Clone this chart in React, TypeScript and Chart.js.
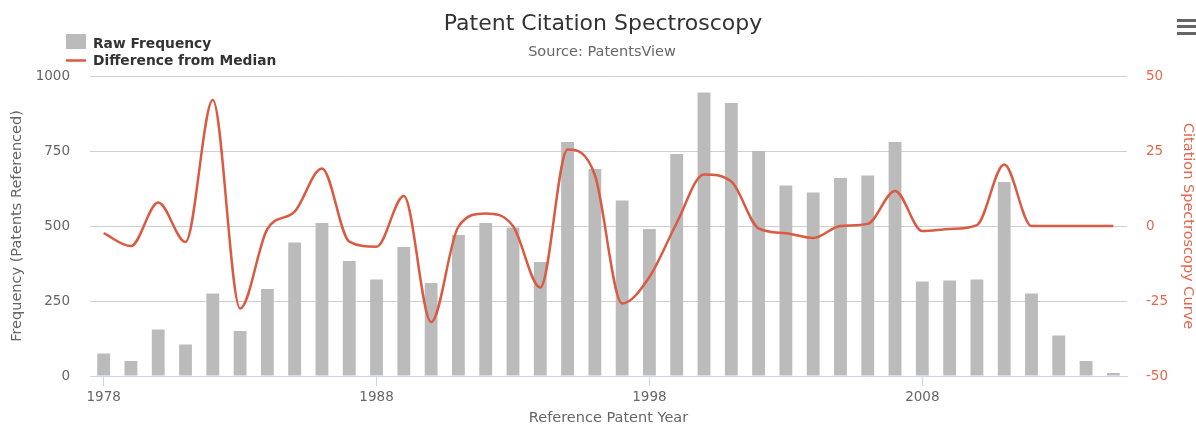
import React, { useEffect, useRef } from 'react';
import { Chart, registerables } from 'chart.js';

Chart.register(...registerables);

const years = [
  '1978', '1979', '1980', '1981', '1982', '1983', '1984', '1985', '1986', '1987',
  '1988', '1989', '1990', '1991', '1992', '1993', '1994', '1995', '1996', '1997',
  '1998', '1999', '2000', '2001', '2002', '2003', '2004', '2005', '2006', '2007',
  '2008', '2009', '2010', '2011', '2012', '2013', '2014', '2015',
];

const rawFrequency = [
  75, 50, 155, 105, 275, 150, 290, 445, 510, 383,
  322, 430, 310, 470, 510, 495, 380, 780, 690, 585,
  490, 740, 945, 910, 750, 635, 612, 660, 668, 780,
  315, 318, 322, 647, 275, 135, 50, 10,
];

const differenceFromMedian = [
  -2.4, -6.7, 7.8, -5.3, 42, -27.5, -1, 4.8, 19.2, -5.2,
  -6.9, 10, -32, -0.2, 4.2, 0, -20.5, 25.5, 17, -25.8,
  -17, 1, 17.2, 14.8, -0.8, -2.4, -4, 0, 0.7, 11.7,
  -1.7, -1, 0.3, 20.5, 0, 0, 0, 0,
];

const xTickYears = ['1978', '1988', '1998', '2008'];
const leftTicks = [0, 250, 500, 750, 1000];
const rightTicks = [-50, -25, 0, 25, 50];

const FONT = '"DejaVu Sans", "Lucida Grande", sans-serif';
const RED = '#db5a42';
const RED_TEXT = '#e4684f';
const BAR = '#bbbbbb';

const overlayPlugin = {
  id: 'overlay',
  afterDraw(chart: any) {
    const ctx = chart.ctx;
    ctx.save();
    // Title
    ctx.textAlign = 'center';
    ctx.textBaseline = 'alphabetic';
    ctx.fillStyle = '#333333';
    ctx.font = `22px ${FONT}`;
    ctx.fillText('Patent Citation Spectroscopy', 603, 29.5);
    ctx.fillStyle = '#666666';
    ctx.font = `14.5px ${FONT}`;
    ctx.fillText('Source: PatentsView', 602, 56);

    // Legend
    ctx.textAlign = 'left';
    ctx.font = `bold 13.8px ${FONT}`;
    ctx.fillStyle = BAR;
    ctx.fillRect(66, 34, 20, 15);
    ctx.fillStyle = '#333333';
    ctx.fillText('Raw Frequency', 93, 48);
    ctx.strokeStyle = RED;
    ctx.lineWidth = 2.5;
    ctx.beginPath();
    ctx.moveTo(66, 60.5);
    ctx.lineTo(86, 60.5);
    ctx.stroke();
    ctx.fillStyle = '#333333';
    ctx.fillText('Difference from Median', 93, 65);

    // Menu icon
    ctx.fillStyle = '#666666';
    ctx.fillRect(1177, 19, 19, 3);
    ctx.fillRect(1177, 25, 19, 3);
    ctx.fillRect(1177, 32, 19, 3);
    ctx.restore();
  },
};

export default function App() {
  const canvasRef = useRef<HTMLCanvasElement | null>(null);

  useEffect(() => {
    document.body.style.margin = '0';
    const canvas = canvasRef.current;
    if (!canvas) return;
    const chart = new Chart(canvas, {
      type: 'bar',
      data: {
        labels: years,
        datasets: [
          {
            type: 'line',
            label: 'Difference from Median',
            data: differenceFromMedian,
            yAxisID: 'y1',
            borderColor: RED,
            backgroundColor: RED,
            borderWidth: 2.5,
            pointRadius: 0,
            cubicInterpolationMode: 'monotone',
            order: 0,
          } as any,
          {
            type: 'bar',
            label: 'Raw Frequency',
            data: rawFrequency,
            yAxisID: 'y',
            backgroundColor: BAR,
            borderWidth: 0,
            barPercentage: 0.47,
            categoryPercentage: 1,
            order: 1,
          },
        ],
      },
      options: {
        animation: false,
        responsive: false,
        maintainAspectRatio: false,
        layout: { padding: { top: 76, left: 0, right: 0, bottom: 0 } },
        plugins: {
          legend: { display: false },
          title: { display: false },
          tooltip: { enabled: false },
        },
        scales: {
          x: {
            type: 'category',
            afterFit: (s: any) => { s.height = 50; },
            border: { display: true, color: '#ccd6eb', width: 1 },
            grid: {
              offset: false,
              drawOnChartArea: false,
              drawTicks: true,
              tickLength: 10,
              color: (c: any) => (xTickYears.includes(years[c.index]) ? '#ccd6eb' : 'rgba(0,0,0,0)'),
            },
            ticks: {
              autoSkip: false,
              maxRotation: 0,
              padding: 3,
              color: '#666666',
              font: { family: FONT, size: 13.5 },
              callback: (_v: any, i: number) => (xTickYears.includes(years[i]) ? years[i] : ''),
            },
            title: {
              display: true,
              text: 'Reference Patent Year',
              color: '#666666',
              font: { family: FONT, size: 14.5 },
              padding: { top: 0, bottom: -1 },
            },
          },
          y: {
            type: 'linear',
            position: 'left',
            min: 0,
            max: 1000,
            afterFit: (s: any) => { s.width = 90; },
            afterBuildTicks: (s: any) => { s.ticks = leftTicks.map((v) => ({ value: v })); },
            border: { display: false },
            grid: { color: '#cfcfcf', drawTicks: false, lineWidth: 1 },
            ticks: {
              padding: 20,
              color: '#666666',
              font: { family: FONT, size: 13.5 },
              callback: (v: any) => String(v),
            },
            title: {
              display: true,
              text: 'Frequency (Patents Referenced)',
              color: '#666666',
              font: { family: FONT, size: 14.5 },
              padding: { top: 9, bottom: 0 },
            },
          },
          y1: {
            type: 'linear',
            position: 'right',
            min: -50,
            max: 50,
            afterFit: (s: any) => { s.width = 69; },
            afterBuildTicks: (s: any) => { s.ticks = rightTicks.map((v) => ({ value: v })); },
            border: { display: false },
            grid: { display: false, drawTicks: false },
            ticks: {
              padding: 19,
              color: RED_TEXT,
              font: { family: FONT, size: 13.5 },
              callback: (v: any) => String(v),
            },
            title: {
              display: true,
              text: 'Citation Spectroscopy Curve',
              color: RED_TEXT,
              font: { family: FONT, size: 14.5 },
              padding: { top: 0, bottom: 0 },
            },
          },
        },
      },
      plugins: [overlayPlugin],
    });
    return () => chart.destroy();
  }, []);

  return (
    <div style={{ width: 1196, height: 426 }}>
      <canvas ref={canvasRef} width={1196} height={426} style={{ display: 'block' }} />
    </div>
  );
}
